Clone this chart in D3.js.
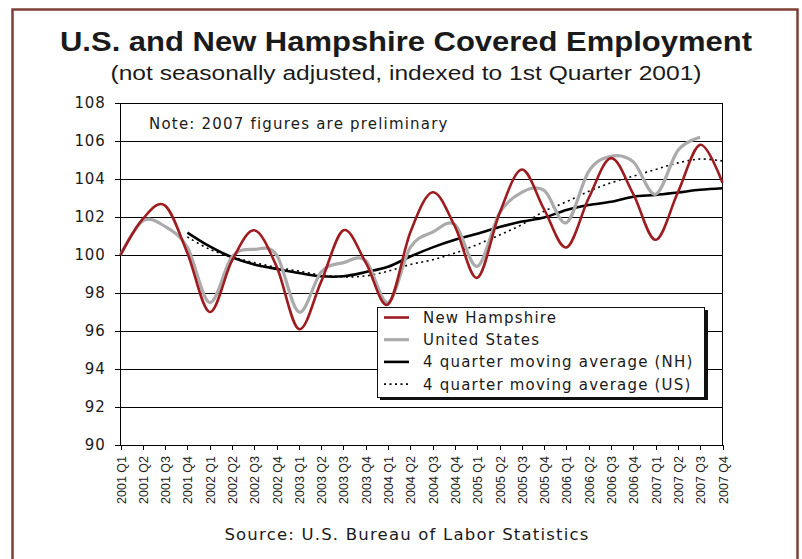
<!DOCTYPE html>
<html lang="en">
<head>
<meta charset="utf-8">
<title>U.S. and New Hampshire Covered Employment</title>
<style>
	body {
		margin: 0;
		background-color: white;
	}
	svg {
		display: block;
		background-color: white;
	}
	.title {
		font-family: "Liberation Sans", Arial, sans-serif;
		font-weight: bold;
		font-size: 28px;
		fill: #1a1a1a;
	}
	.subtitle {
		font-family: "Liberation Sans", Arial, sans-serif;
		font-size: 20px;
		fill: #1a1a1a;
	}
	.axis path,
	.axis line {
		fill: none;
		stroke: black;
		shape-rendering: crispEdges;
	}
	.y.axis text {
		font-family: "DejaVu Sans", Verdana, sans-serif;
		font-size: 15px;
		letter-spacing: 0.8px;
		fill: #1a1a1a;
	}
	.x.axis text {
		font-family: "Liberation Sans", Arial, sans-serif;
		font-size: 12.5px;
		fill: #222;
	}
	.grid line {
		stroke: black;
		stroke-width: 1;
		shape-rendering: crispEdges;
	}
	.note, .legend text {
		font-family: "DejaVu Sans", Verdana, sans-serif;
		font-size: 15px;
		letter-spacing: 1.2px;
		fill: #1a1a1a;
	}
	.source {
		font-family: "DejaVu Sans", Verdana, sans-serif;
		font-size: 16.5px;
		letter-spacing: 1.2px;
		fill: #1a1a1a;
	}
</style>
</head>
<body>
<script src="https://cdn.jsdelivr.net/npm/d3@7"></script>
<script>
	// quarters on the x axis
	var quarters = ["2001 Q1", "2001 Q2", "2001 Q3", "2001 Q4",
		"2002 Q1", "2002 Q2", "2002 Q3", "2002 Q4",
		"2003 Q1", "2003 Q2", "2003 Q3", "2003 Q4",
		"2004 Q1", "2004 Q2", "2004 Q3", "2004 Q4",
		"2005 Q1", "2005 Q2", "2005 Q3", "2005 Q4",
		"2006 Q1", "2006 Q2", "2006 Q3", "2006 Q4",
		"2007 Q1", "2007 Q2", "2007 Q3", "2007 Q4"];

	var yTicks = [90, 92, 94, 96, 98, 100, 102, 104, 106, 108];

	// index values (1st quarter 2001 = 100)
	var nh = [100.0, 101.9, 102.6, 100.1, 97.0, 99.7, 101.3, 99.4,
		96.1, 98.6, 101.3, 99.6, 97.4, 101.2, 103.3, 101.5,
		98.8, 102.2, 104.5, 102.4, 100.4, 103.0, 105.1, 103.2,
		100.8, 103.3, 105.8, 103.8];

	var us = [100.0, 101.8, 101.5, 100.4, 97.5, 99.9, 100.3, 100.0,
		97.0, 99.1, 99.6, 99.7, 97.5, 100.4, 101.2, 101.6,
		99.4, 102.2, 103.3, 103.4, 101.7, 104.4, 105.2, 104.9,
		103.2, 105.5, 106.2, null];

	var nhAvg = [null, null, null, 101.18, 100.45, 99.88, 99.5, 99.27,
		99.05, 98.88, 98.88, 99.1, 99.38, 99.92, 100.4, 100.8,
		101.12, 101.47, 101.76, 101.97, 102.37, 102.63, 102.8, 103.07,
		103.16, 103.29, 103.43, 103.51];

	var usAvg = [null, null, null, 100.95, 100.3, 99.9, 99.6, 99.35,
		99.15, 98.95, 98.85, 98.9, 99.15, 99.5, 99.75, 100.1,
		100.55, 101.05, 101.6, 102.3, 102.8, 103.35, 103.8, 104.15,
		104.5, 104.85, 105.05, 104.95];

	var series = [
		{ name: "New Hampshire", values: nh, color: "#9e1c20", width: 2.6, dash: null },
		{ name: "United States", values: us, color: "#ababab", width: 3.2, dash: null },
		{ name: "4 quarter moving average (NH)", values: nhAvg, color: "#000", width: 2.6, dash: null },
		{ name: "4 quarter moving average (US)", values: usAvg, color: "#000", width: 1.6, dash: "2,3.5" }
	];
	// draw order: averages under the quarterly lines like the original
	var drawOrder = [3, 2, 1, 0];

	var fullwidth = 802;
	var fullheight = 559;

	var plot = { left: 120.5, right: 722.5, top: 103, bottom: 445 };

	var svg = d3.select("body")
		.append("svg")
		.attr("width", fullwidth)
		.attr("height", fullheight);

	// outer frame (runs off the bottom of the page)
	svg.append("rect")
		.attr("x", 12.5)
		.attr("y", 9.5)
		.attr("width", 785)
		.attr("height", 620)
		.attr("fill", "none")
		.attr("stroke", "#7d4034")
		.attr("stroke-width", 2.5);

	var xScale = d3.scalePoint().domain(quarters).range([plot.left, plot.right]);
	var yScale = d3.scaleLinear().domain([90, 108]).range([plot.bottom, plot.top]);

	// titles
	svg.append("text")
		.attr("class", "title")
		.attr("x", 406)
		.attr("y", 51)
		.attr("text-anchor", "middle")
		.attr("textLength", 692)
		.attr("lengthAdjust", "spacingAndGlyphs")
		.text("U.S. and New Hampshire Covered Employment");

	svg.append("text")
		.attr("class", "subtitle")
		.attr("x", 406)
		.attr("y", 80)
		.attr("text-anchor", "middle")
		.attr("textLength", 591)
		.attr("lengthAdjust", "spacingAndGlyphs")
		.text("(not seasonally adjusted, indexed to 1st Quarter 2001)");

	// horizontal gridlines
	svg.append("g")
		.attr("class", "grid")
		.selectAll("line")
		.data(yTicks)
		.enter()
		.append("line")
		.attr("x1", plot.left)
		.attr("x2", plot.right)
		.attr("y1", function(d) { return yScale(d); })
		.attr("y2", function(d) { return yScale(d); });

	// right border of plot area
	svg.append("line")
		.attr("x1", plot.right)
		.attr("x2", plot.right)
		.attr("y1", plot.top)
		.attr("y2", plot.bottom)
		.attr("stroke", "black")
		.attr("shape-rendering", "crispEdges");

	var yAxis = d3.axisLeft(yScale).tickValues(yTicks).tickSize(6).tickPadding(9);
	var xAxis = d3.axisBottom(xScale).tickSize(5);

	svg.append("g")
		.attr("class", "y axis")
		.attr("transform", "translate(" + plot.left + ",0)")
		.call(yAxis)
		.call(function(g) { g.select(".domain").attr("d", "M0," + plot.top + "V" + plot.bottom); });

	svg.append("g")
		.attr("class", "x axis")
		.attr("transform", "translate(0," + plot.bottom + ")")
		.call(xAxis)
		.call(function(g) { g.select(".domain").attr("d", "M" + plot.left + ",0H" + plot.right); })
		.selectAll("text")
		.attr("transform", "rotate(-90)")
		.attr("text-anchor", "end")
		.attr("x", -11)
		.attr("y", 0)
		.attr("dy", "0.36em");

	// note
	svg.append("text")
		.attr("class", "note")
		.attr("x", 149)
		.attr("y", 129)
		.text("Note:  2007 figures are preliminary");

	// lines, smoothed like the spreadsheet original
	var line = d3.line()
		.defined(function(d) { return d.v != null; })
		.x(function(d) { return xScale(d.q); })
		.y(function(d) { return yScale(d.v); })
		.curve(d3.curveCardinal.tension(0));

	drawOrder.forEach(function(k) {
		var s = series[k];
		var pts = s.values.map(function(v, i) { return { q: quarters[i], v: v }; });
		svg.append("path")
			.datum(pts)
			.attr("fill", "none")
			.attr("stroke", s.color)
			.attr("stroke-width", s.width)
			.attr("stroke-dasharray", s.dash)
			.attr("stroke-linejoin", "round")
			.attr("d", line);
	});

	// legend with drop shadow
	var legend = svg.append("g").attr("class", "legend");

	legend.append("rect")
		.attr("x", 380)
		.attr("y", 310)
		.attr("width", 328)
		.attr("height", 90)
		.attr("fill", "#111");

	legend.append("rect")
		.attr("x", 377.5)
		.attr("y", 307.5)
		.attr("width", 327)
		.attr("height", 90)
		.attr("fill", "white")
		.attr("stroke", "#111")
		.attr("stroke-width", 1);

	var items = legend.selectAll("g.item")
		.data(series)
		.enter()
		.append("g")
		.attr("class", "item")
		.attr("transform", function(d, i) { return "translate(0," + (317.5 + i * 22.2) + ")"; });

	items.append("line")
		.attr("x1", 384)
		.attr("x2", 409)
		.attr("y1", 0)
		.attr("y2", 0)
		.attr("stroke", function(d) { return d.color; })
		.attr("stroke-width", function(d) { return d.width; })
		.attr("stroke-dasharray", function(d) { return d.dash; });

	items.append("text")
		.attr("x", 423)
		.attr("y", 0)
		.attr("dy", "0.36em")
		.text(function(d) { return d.name; });

	// source
	svg.append("text")
		.attr("class", "source")
		.attr("x", 407)
		.attr("y", 540)
		.attr("text-anchor", "middle")
		.text("Source: U.S. Bureau of Labor Statistics");
</script>
</body>
</html>
